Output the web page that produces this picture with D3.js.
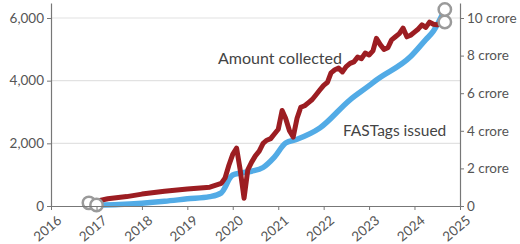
<!DOCTYPE html>
<html><head><meta charset="utf-8">
<script src="https://cdn.jsdelivr.net/npm/d3@7"></script>
<style>
body{margin:0;background:#fff}
svg{display:block}
text{font-family:Lato,"Open Sans",sans-serif}
</style>
</head><body><svg id="c" width="520" height="244"></svg>
<script>
// ---- data ----
const yearTicks = [2016,2017,2018,2019,2020,2021,2022,2023,2024,2025];
const leftTicks = [0,2000,4000,6000];
const rightTicks = [0,2,4,6,8,10];
const rightTickLabels = ["0","2 crore","4 crore","6 crore","8 crore","10 crore"];

// Amount collected (Rs crore, monthly)
const amountMonths = ["2016-11","2017-04","2017-09","2018-01","2018-07","2019-01","2019-07","2019-10","2019-11","2019-12","2020-01","2020-02","2020-03","2020-04","2020-05","2020-06","2020-07","2020-08","2020-09","2020-10","2020-11","2020-12","2021-01","2021-02","2021-03","2021-04","2021-05","2021-06","2021-07","2021-08","2021-09","2021-10","2021-11","2021-12","2022-01","2022-02","2022-03","2022-04","2022-05","2022-06","2022-07","2022-08","2022-09","2022-10","2022-11","2022-12","2023-01","2023-02","2023-03","2023-04","2023-05","2023-06","2023-07","2023-08","2023-09","2023-10","2023-11","2023-12","2024-01","2024-02","2024-03","2024-04","2024-05","2024-06","2024-07","2024-08","2024-09"];
const amountValues = [100,230,300,380,470,540,600,720,900,1300,1650,1850,1150,250,1150,1400,1600,1750,2000,2100,2150,2300,2450,3050,2800,2400,2200,2800,3150,3200,3300,3400,3550,3700,3850,3950,4250,4350,4400,4280,4450,4550,4600,4750,4700,4880,4820,4950,5350,5150,5000,5050,5300,5400,5500,5680,5400,5450,5550,5650,5780,5700,5870,5800,5780,5850,5870];

// FASTags issued (crore, cumulative)
const tagMonths = ["2017-01","2017-07","2018-01","2018-07","2019-01","2019-07","2019-10","2019-11","2019-12","2020-01","2020-03","2020-06","2020-09","2020-12","2021-03","2021-06","2021-12","2022-08","2023-01","2023-03","2023-12","2024-04","2024-06","2024-09"];
const tagValues = [0.05,0.08,0.15,0.25,0.38,0.5,0.7,1.0,1.4,1.65,1.75,1.85,2.05,2.6,3.35,3.55,4.15,5.65,6.4,6.7,7.95,8.85,9.3,10.45];

// ---- chart ----
const svg = d3.select("#c");
const parse = d3.timeParse("%Y-%m");
const x = d3.scaleTime().domain([new Date(2016,0,1), new Date(2025,0,1)]).range([51,460]);
const yL = d3.scaleLinear().domain([0,6000*203/188]).range([206,3]);
const yR = d3.scaleLinear().domain([0,10*203/188]).range([206,3]);

const amount = amountMonths.map((m,i)=>({d:parse(m), v:amountValues[i]}));
const tags = tagMonths.map((m,i)=>({d:parse(m), v:tagValues[i]}));

// gridlines
svg.append("g").selectAll("line").data(leftTicks.filter(t=>t>0)).join("line")
  .attr("x1",x.range()[0]).attr("x2",x.range()[1])
  .attr("y1",d=>yL(d)).attr("y2",d=>yL(d))
  .attr("stroke","#e2e2e2").attr("stroke-width",1.2);

// lines
svg.append("path").datum(tags)
  .attr("fill","none").attr("stroke","#52abe6").attr("stroke-width",5.5)
  .attr("stroke-linejoin","round").attr("stroke-linecap","round")
  .attr("d", d3.line().x(d=>x(d.d)).y(d=>yR(d.v)).curve(d3.curveMonotoneX));
svg.append("path").datum(amount)
  .attr("fill","none").attr("stroke","#9c1d22").attr("stroke-width",5)
  .attr("stroke-linejoin","round").attr("stroke-linecap","round")
  .attr("d", d3.line().x(d=>x(d.d)).y(d=>yL(d.v)));

// end markers
const markers = [
  {cx:x(amount[0].d), cy:yL(amount[0].v)},
  {cx:x(tags[0].d), cy:yR(tags[0].v)},
  {cx:x(amount[amount.length-1].d), cy:yL(amount[amount.length-1].v)},
  {cx:x(tags[tags.length-1].d), cy:yR(tags[tags.length-1].v)}
];
svg.append("g").selectAll("circle").data(markers).join("circle")
  .attr("cx",d=>d.cx).attr("cy",d=>d.cy).attr("r",6.2)
  .attr("fill","#fff").attr("stroke","#9a9a9a").attr("stroke-width",2.5);

// axes
const axisColor = "#777", labelColor = "#555";
const gL = svg.append("g").attr("transform","translate(51,0)")
  .call(d3.axisLeft(yL).tickValues(leftTicks).tickSize(4).tickSizeOuter(0).tickFormat(d3.format(",")));
const gR = svg.append("g").attr("transform","translate(460,0)")
  .call(d3.axisRight(yR).tickValues(rightTicks).tickSize(4).tickSizeOuter(0).tickFormat((d,i)=>rightTickLabels[i]));
const gX = svg.append("g").attr("transform","translate(0,206)")
  .call(d3.axisBottom(x).tickValues(yearTicks.map(y=>new Date(y,0,1))).tickSize(4).tickSizeOuter(0).tickFormat(d3.timeFormat("%Y")));
[gL,gR,gX].forEach(g=>{
  g.select(".domain").attr("stroke",axisColor).attr("stroke-width",1.2);
  g.selectAll(".tick line").attr("stroke",axisColor);
  g.selectAll("text").attr("fill",labelColor).style("font-size","13.5px").style("font-family","Lato,sans-serif");
});
gL.selectAll("text").attr("x",-7);
gR.selectAll("text").attr("x",7);
gX.selectAll("text").attr("text-anchor","end").attr("y",0).attr("dy",0)
  .attr("transform","translate(11,16) rotate(-40)");

// annotations
svg.append("text").attr("x",218).attr("y",64).text("Amount collected")
  .attr("fill","#444").style("font-size","16px");
svg.append("text").attr("x",343).attr("y",136).text("FASTags issued")
  .attr("fill","#444").style("font-size","15.5px");
</script>
</body></html>
